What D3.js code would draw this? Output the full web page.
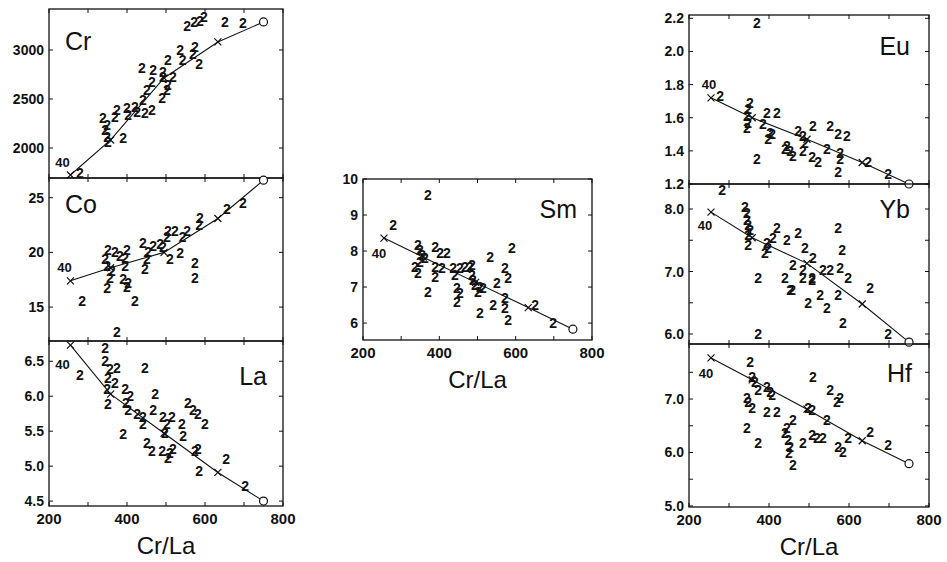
<!DOCTYPE html>
<html>
<head>
<meta charset="utf-8">
<script src="https://cdn.jsdelivr.net/npm/d3@7"></script>
<style>
body{margin:0;background:#fff;}
text{font-family:"Liberation Sans",Arial,sans-serif;fill:#111;}
</style>
</head>
<body>
<svg></svg>
<script>
var screen = {width:947,height:562}

// model curve (mixing line), Cr/La positions of the x marks
var modelX = [255,358,495,633,750]

var crModel = [1725,2082,2714,3082,3286]
var coModel = [17.4,18.6,20.0,23.1,26.6]
var laModel = [6.73,6.03,5.47,4.91,4.5]
var smModel = [8.36,7.83,7.13,6.43,5.83]
var euModel = [1.72,1.60,1.47,1.33,1.2]
var ybModel = [7.95,7.54,7.13,6.48,5.87]
var hfModel = [7.77,7.36,6.81,6.22,5.79]

// samples [Cr/La, value]
var crPts = [[554,3245],[572,3286],[587,3296],[597,3337],[651,3286],[697,3275],[536,3000],[574,3031],
  [543,2898],[569,2959],[585,2857],[505,2898],[438,2816],[467,2796],[492,2776],[492,2725],[518,2725],
  [464,2674],[451,2592],[505,2643],[502,2592],[490,2510],[441,2490],[374,2388],[400,2408],[420,2419],
  [369,2317],[403,2337],[426,2368],[446,2357],[464,2388],[338,2306],[349,2235],[344,2184],[349,2113],
  [351,2062],[390,2102],[279,1745]]
var coPts = [[697,24.5],[656,24.0],[587,23.1],[585,22.5],[554,22.0],[543,21.4],[505,22.0],[523,22.0],
  [502,21.4],[441,20.9],[467,20.6],[485,20.8],[492,20.5],[454,20.0],[510,19.4],[536,19.9],[451,19.4],
  [446,18.5],[351,20.2],[369,20.0],[400,20.2],[382,19.7],[344,19.4],[395,19.5],[349,18.8],[361,18.3],
  [395,18.8],[356,17.7],[390,17.6],[400,16.8],[403,17.2],[349,16.7],[420,15.6],[285,15.6],[574,19.0],
  [574,17.7],[374,12.7]]
var laPts = [[344,6.69],[279,6.31],[344,6.5],[356,6.39],[374,6.40],[351,6.26],[369,6.19],[446,6.40],
  [349,6.1],[351,5.89],[395,6.11],[408,6.0],[397,5.9],[472,6.03],[403,5.81],[426,5.74],[441,5.71],
  [467,5.81],[441,5.6],[492,5.71],[515,5.71],[502,5.61],[541,5.61],[497,5.47],[556,5.9],[569,5.81],
  [582,5.74],[600,5.61],[544,5.43],[390,5.46],[451,5.33],[464,5.21],[490,5.21],[510,5.19],[518,5.24],
  [505,5.11],[574,5.21],[582,5.24],[654,5.1],[585,4.93],[703,4.71]]
var smPts = [[370,9.56],[279,8.72],[344,8.17],[349,8.03],[355,7.9],[336,7.56],[349,7.7],[344,7.39],
  [362,7.8],[370,6.86],[389,8.1],[402,7.94],[420,7.94],[389,7.56],[407,7.53],[389,7.28],[436,7.53],
  [454,7.53],[467,7.56],[480,7.56],[485,7.61],[441,7.33],[446,6.97],[454,6.83],[446,6.58],[485,7.33],
  [488,7.19],[493,7.06],[506,7.0],[514,6.97],[501,6.86],[533,7.83],[590,8.08],[572,7.53],[580,7.25],
  [551,7.11],[506,6.28],[541,6.5],[572,6.69],[572,6.42],[580,6.08],[651,6.5],[698,6.0]]
var euPts = [[370,2.17],[278,1.73],[352,1.69],[348,1.65],[345,1.61],[348,1.57],[345,1.54],[395,1.63],
  [420,1.63],[385,1.56],[403,1.51],[398,1.47],[408,1.50],[370,1.35],[445,1.43],[453,1.40],[460,1.37],
  [440,1.41],[473,1.52],[485,1.49],[510,1.55],[490,1.45],[485,1.40],[508,1.36],[523,1.33],[545,1.41],
  [553,1.55],[573,1.50],[595,1.49],[578,1.39],[578,1.35],[573,1.27],[648,1.33],[698,1.26]]
var ybPts = [[283,8.30],[340,8.03],[345,7.93],[345,7.82],[348,7.74],[353,7.66],[348,7.58],[348,7.42],
  [395,7.46],[398,7.38],[390,7.29],[420,7.69],[410,7.53],[445,7.5],[473,7.62],[573,7.7],[490,7.37],
  [510,7.22],[460,7.1],[583,7.34],[373,6.9],[440,6.9],[453,6.7],[458,6.7],[485,6.9],[508,6.9],
  [508,6.86],[485,7.02],[535,7.02],[553,7.02],[578,7.05],[598,6.9],[498,6.49],[528,6.62],[545,6.42],
  [573,6.62],[653,6.73],[585,6.18],[373,6.0],[698,6.0]]
var hfPts = [[353,7.69],[358,7.41],[365,7.32],[373,7.17],[395,7.22],[403,7.13],[408,7.07],[345,7.02],
  [348,6.94],[358,6.83],[395,6.76],[420,6.76],[345,6.46],[373,6.18],[510,7.41],[553,7.17],[578,7.02],
  [570,6.94],[498,6.83],[508,6.79],[460,6.61],[545,6.61],[445,6.46],[440,6.36],[448,6.23],[453,6.10],
  [450,5.99],[460,5.77],[485,6.18],[508,6.33],[520,6.27],[535,6.27],[598,6.27],[573,6.10],[585,6.01],
  [653,6.38],[698,6.14]]

// axes
var xTicks = [200,300,400,500,600,700,800]
var xLabels = [200,400,600,800]

var panels = [
  {name:"Cr",pts:crPts,model:crModel,dom:[1694,3418],ticks:[2000,2500,3000],labs:[2000,2500,3000],fmt:"d",
   box:[49,283,9,178],lab:[65,50,"start"],forty:[-8,-12],xl:false},
  {name:"Co",pts:coPts,model:coModel,dom:[11.9,26.8],ticks:[15,20,25],labs:[15,20,25],fmt:"d",
   box:[49,283,178,341],lab:[65,213,"start"],forty:[-6,-13],xl:false},
  {name:"La",pts:laPts,model:laModel,dom:[4.43,6.79],ticks:[4.5,5,5.5,6,6.5],labs:[4.5,5,5.5,6,6.5],fmt:".1f",
   box:[49,283,341,506],lab:[267,385,"end"],forty:[-8,19],xl:true},
  {name:"Sm",pts:smPts,model:smModel,dom:[5.53,10],ticks:[6,7,8,9,10],labs:[6,7,8,9,10],fmt:"d",
   box:[363,592,179,340],lab:[577,218,"end"],forty:[-5,15],xl:true},
  {name:"Eu",pts:euPts,model:euModel,dom:[1.2,2.22],ticks:[1.2,1.4,1.6,1.8,2.0,2.2],labs:[1.2,1.4,1.6,1.8,2.0,2.2],fmt:".1f",
   box:[689,929,15,184],lab:[910,55,"end"],forty:[-2,-13],xl:false},
  {name:"Yb",pts:ybPts,model:ybModel,dom:[5.84,8.4],ticks:[6,6.5,7,7.5,8],labs:[6,7,8],fmt:".1f",
   box:[689,929,184,344],lab:[910,218,"end"],forty:[-6,13],xl:false},
  {name:"Hf",pts:hfPts,model:hfModel,dom:[4.98,8.03],ticks:[5,5.5,6,6.5,7,7.5],labs:[5,6,7],fmt:".1f",
   box:[689,929,344,507],lab:[912,382,"end"],forty:[-5,16],xl:true}
]

var svg = d3.select("svg")
  .attr("width",screen.width)
  .attr("height",screen.height)

var drawPanel = function(p)
{
    var x0 = p.box[0], x1 = p.box[1], y0 = p.box[2], y1 = p.box[3]
    var xScale = d3.scaleLinear().domain([200,800]).range([x0,x1])
    var yScale = d3.scaleLinear().domain(p.dom).range([y1,y0])
    var g = svg.append("g").attr("class","panel")
    var tk = 4

    // frame
    g.append("rect")
      .attr("x",x0).attr("y",y0)
      .attr("width",x1-x0).attr("height",y1-y0)
      .attr("fill","none").attr("stroke","#111").attr("stroke-width",1.3)

    // inward ticks, all four sides
    g.selectAll(".xtb").data(xTicks).enter().append("line")
      .attr("x1",function(d){return xScale(d)}).attr("x2",function(d){return xScale(d)})
      .attr("y1",y1).attr("y2",y1-tk).attr("stroke","#111")
    g.selectAll(".xtt").data(xTicks).enter().append("line")
      .attr("x1",function(d){return xScale(d)}).attr("x2",function(d){return xScale(d)})
      .attr("y1",y0).attr("y2",y0+tk).attr("stroke","#111")
    g.selectAll(".ytl").data(p.ticks).enter().append("line")
      .attr("x1",x0).attr("x2",x0+tk)
      .attr("y1",function(d){return yScale(d)}).attr("y2",function(d){return yScale(d)})
      .attr("stroke","#111")
    g.selectAll(".ytr").data(p.ticks).enter().append("line")
      .attr("x1",x1).attr("x2",x1-tk)
      .attr("y1",function(d){return yScale(d)}).attr("y2",function(d){return yScale(d)})
      .attr("stroke","#111")

    var f = d3.format(p.fmt)
    g.selectAll(".ylab").data(p.labs).enter().append("text")
      .attr("x",x0-5)
      .attr("y",function(d){return yScale(d)})
      .attr("text-anchor","end")
      .attr("dominant-baseline","central")
      .style("font-size","14px").style("font-weight","bold")
      .text(function(d){return f(d)})

    if(p.xl){
        g.selectAll(".xlab").data(xLabels).enter().append("text")
          .attr("x",function(d){return xScale(d)})
          .attr("y",y1+18)
          .attr("text-anchor","middle")
          .style("font-size","15px").style("font-weight","bold")
          .text(function(d){return d})
        g.append("text")
          .attr("x",(x0+x1)/2)
          .attr("y",y1+48)
          .attr("text-anchor","middle")
          .style("font-size","24px")
          .text("Cr/La")
    }

    // element name
    g.append("text")
      .attr("x",p.lab[0]).attr("y",p.lab[1])
      .attr("text-anchor",p.lab[2])
      .style("font-size","25px")
      .text(p.name)

    // model line
    var line = d3.line()
      .x(function(d,i){return xScale(modelX[i])})
      .y(function(d){return yScale(d)})
    g.append("path")
      .datum(p.model)
      .attr("d",line)
      .attr("fill","none").attr("stroke","#111").attr("stroke-width",1.1)

    // x marks at the inner points
    var cross = function(d,i){
        var cx = xScale(modelX[i]), cy = yScale(d), s = 3.5
        return "M"+(cx-s)+","+(cy-s)+"L"+(cx+s)+","+(cy+s)+"M"+(cx-s)+","+(cy+s)+"L"+(cx+s)+","+(cy-s)
    }
    g.selectAll(".mk").data(p.model.slice(0,4)).enter().append("path")
      .attr("d",cross)
      .attr("stroke","#111").attr("stroke-width",1.2)

    g.append("circle")
      .attr("cx",xScale(modelX[4])).attr("cy",yScale(p.model[4]))
      .attr("r",4).attr("fill","#fff").attr("stroke","#111").attr("stroke-width",1.2)

    g.append("text")
      .attr("x",xScale(modelX[0])+p.forty[0])
      .attr("y",yScale(p.model[0])+p.forty[1])
      .attr("text-anchor","middle")
      .attr("dominant-baseline","central")
      .style("font-size","13px").style("font-weight","bold")
      .text("40")

    // samples, plotted as "2"
    g.selectAll(".pt").data(p.pts).enter().append("text")
      .attr("x",function(d){return xScale(d[0])})
      .attr("y",function(d){return yScale(d[1])})
      .attr("text-anchor","middle")
      .attr("dominant-baseline","central")
      .style("font-size","14px").style("font-weight","bold")
      .text("2")
}

panels.forEach(drawPanel)
</script>
</body>
</html>
